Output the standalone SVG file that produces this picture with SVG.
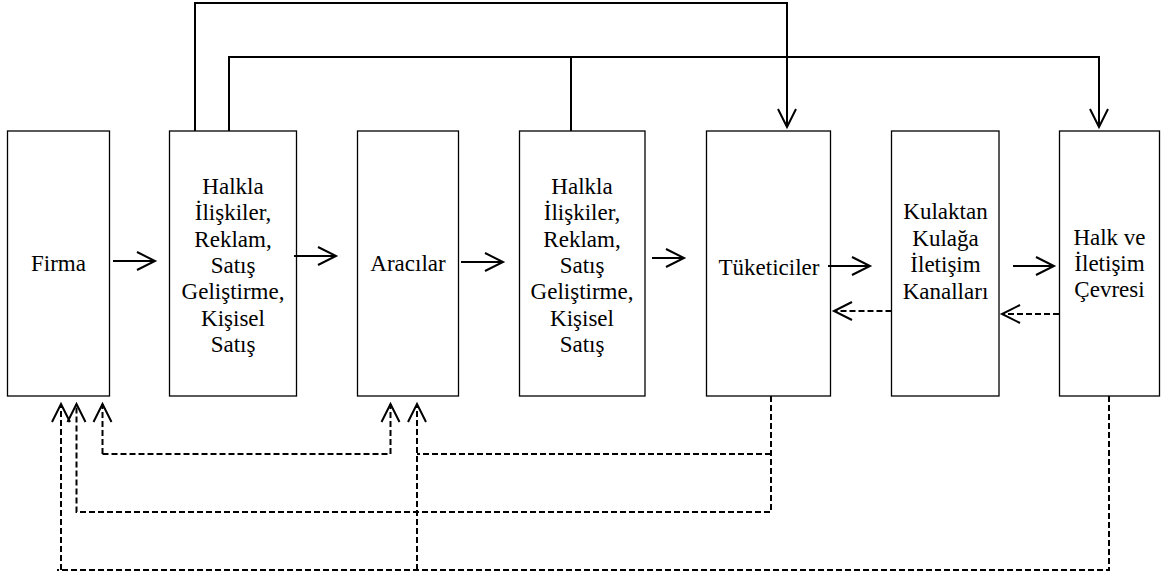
<svg xmlns="http://www.w3.org/2000/svg" width="1166" height="577" viewBox="0 0 1166 577">
<style>
.box{fill:#fff;stroke:#000;stroke-width:1.3}
.t{font-family:"Liberation Serif","Times New Roman","DejaVu Serif",serif;font-size:23px;fill:#000;text-anchor:middle}
.c{fill:none;stroke:#000;stroke-width:2}
.d{fill:none;stroke:#000;stroke-width:2;stroke-dasharray:6 3}
</style>
<defs>
<marker id="ah" markerUnits="userSpaceOnUse" markerWidth="24" markerHeight="24" refX="19" refY="10" orient="auto" overflow="visible">
<path d="M1,1 L19,10 L1,19" fill="none" stroke="#000" stroke-width="2" stroke-dasharray="none"/>
</marker>
</defs>
<rect width="1166" height="577" fill="#fff"/>
<g id="firma"><rect class="box" x="7.5" y="131" width="102" height="265"/><text class="t" x="58.5" y="271">Firma</text></g>
<g id="halkla1"><rect class="box" x="169.5" y="131" width="127" height="265"/>
<text class="t" x="233" y="194">Halkla</text><text class="t" x="233" y="220.3">İlişkiler,</text><text class="t" x="233" y="246.6">Reklam,</text><text class="t" x="233" y="272.9">Satış</text><text class="t" x="233" y="299.2">Geliştirme,</text><text class="t" x="233" y="325.5">Kişisel</text><text class="t" x="233" y="351.8">Satış</text></g>
<g id="aracilar"><rect class="box" x="357.5" y="131" width="101" height="265"/><text class="t" x="408" y="271">Aracılar</text></g>
<g id="halkla2"><rect class="box" x="519.5" y="131" width="125.5" height="265"/>
<text class="t" x="582" y="194">Halkla</text><text class="t" x="582" y="220.3">İlişkiler,</text><text class="t" x="582" y="246.6">Reklam,</text><text class="t" x="582" y="272.9">Satış</text><text class="t" x="582" y="299.2">Geliştirme,</text><text class="t" x="582" y="325.5">Kişisel</text><text class="t" x="582" y="351.8">Satış</text></g>
<g id="tuketiciler"><rect class="box" x="706.5" y="131" width="124" height="265"/><text class="t" x="769" y="275">Tüketiciler</text></g>
<g id="kulaktan"><rect class="box" x="891.5" y="131" width="107.5" height="265"/>
<text class="t" x="945.5" y="219">Kulaktan</text><text class="t" x="945.5" y="245.5">Kulağa</text><text class="t" x="945.5" y="272">İletişim</text><text class="t" x="945.5" y="298.5">Kanalları</text></g>
<g id="halkve"><rect class="box" x="1059.5" y="131" width="100" height="265"/>
<text class="t" x="1109.5" y="244.5">Halk ve</text><text class="t" x="1109.5" y="271">İletişim</text><text class="t" x="1109.5" y="297">Çevresi</text></g>
<g id="connectors">
<path class="c" d="M195,131 V3 H787 V127" marker-end="url(#ah)"/>
<path class="c" d="M229,131 V57 H1099 V127" marker-end="url(#ah)"/>
<path class="c" d="M571,131 V57"/>
<path class="c" d="M113,261 H155" marker-end="url(#ah)"/>
<path class="c" d="M294,256 H336" marker-end="url(#ah)"/>
<path class="c" d="M461,262 H503" marker-end="url(#ah)"/>
<path class="c" d="M652,258 H684" marker-end="url(#ah)"/>
<path class="c" d="M828,266 H870" marker-end="url(#ah)"/>
<path class="c" d="M1013,266 H1054" marker-end="url(#ah)"/>
<path class="d" d="M891.5,311 H834" marker-end="url(#ah)"/>
<path class="d" d="M1059,314 H1002" marker-end="url(#ah)"/>
<path class="d" d="M771,396 V512 H76.5 V404" marker-end="url(#ah)"/>
<path class="d" d="M771,454 H417"/>
<path class="d" d="M1109,396 V570 H57"/>
<path class="d" d="M61,570 V404" marker-end="url(#ah)"/>
<path class="d" d="M417,570 V404" marker-end="url(#ah)"/>
<path class="d" d="M102.5,454 H390.5 V404" marker-end="url(#ah)"/>
<path class="d" d="M102.5,454 V404" marker-end="url(#ah)"/>
</g>
</svg>
